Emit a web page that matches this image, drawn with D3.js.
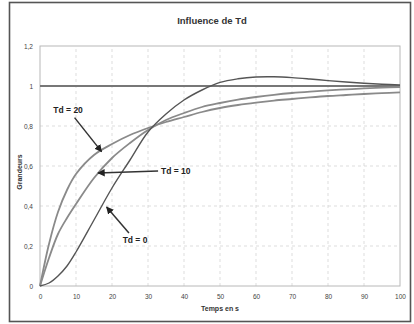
<!DOCTYPE html>
<html>
<head>
<meta charset="utf-8">
<script src="https://cdn.jsdelivr.net/npm/d3@7"></script>
<style>
  html, body { margin: 0; padding: 0; background: #fff; }
  svg { display: block; font-family: "Liberation Sans", Arial, sans-serif; }
</style>
</head>
<body>
<div id="chart"></div>
<script>
// data
const temps = [0, 2.5, 5, 7.5, 10, 15, 20, 25, 30, 35, 40, 45, 50, 55, 60, 65, 70, 75, 80, 85, 90, 95, 100];
const td0   = [0, 0.015, 0.05, 0.1, 0.17, 0.33, 0.49, 0.63, 0.77, 0.86, 0.93, 0.98, 1.018, 1.036, 1.045, 1.046, 1.042, 1.035, 1.027, 1.02, 1.014, 1.009, 1.005];
const td10  = [0, 0.14, 0.26, 0.34, 0.41, 0.54, 0.64, 0.715, 0.78, 0.83, 0.865, 0.895, 0.915, 0.932, 0.945, 0.956, 0.965, 0.972, 0.978, 0.983, 0.988, 0.992, 0.995];
const td20  = [0, 0.21, 0.37, 0.48, 0.56, 0.655, 0.71, 0.755, 0.79, 0.82, 0.845, 0.87, 0.89, 0.905, 0.917, 0.927, 0.935, 0.943, 0.95, 0.955, 0.96, 0.964, 0.968];
const consigne = [1, 1];
const consigneT = [0, 100];

const xTicks = [0, 10, 20, 30, 40, 50, 60, 70, 80, 90, 100];
const yTicks = [0, 0.2, 0.4, 0.6, 0.8, 1, 1.2];

// annotations: label, text anchor point, arrow start, arrow tip (data units)
const notes = [
  { label: "Td = 20", tx: 7.8,  ty: 0.88,  x1: 9.6,  y1: 0.842, x2: 17.1, y2: 0.672, anchor: "middle" },
  { label: "Td = 10", tx: 33.6, ty: 0.575, x1: 32.8, y1: 0.575, x2: 16.1, y2: 0.565, anchor: "start" },
  { label: "Td = 0",  tx: 26.4, ty: 0.23,  x1: 24.7, y1: 0.265, x2: 18.5, y2: 0.395, anchor: "middle" }
];

const W = 414, H = 324;
const margin = { top: 46, right: 14, bottom: 38, left: 40 };

const svg = d3.select("#chart").append("svg")
  .attr("width", W)
  .attr("height", H);

// outer frame
svg.append("rect")
  .attr("x", 9.5).attr("y", 2.5)
  .attr("width", 401).attr("height", 319)
  .attr("fill", "#fff")
  .attr("stroke", "#555")
  .attr("stroke-width", 1.6);

const x = d3.scaleLinear().domain([0, 100]).range([margin.left, W - margin.right]);
const y = d3.scaleLinear().domain([0, 1.2]).range([H - margin.bottom, margin.top]);

// grid
svg.append("g")
  .selectAll("line")
  .data(xTicks.filter(d => d > 0 && d < 100))
  .join("line")
  .attr("x1", d => x(d)).attr("x2", d => x(d))
  .attr("y1", y(0)).attr("y2", y(1.2))
  .attr("stroke", "#d4d4d4")
  .attr("stroke-dasharray", "3,3")
  .attr("stroke-width", 0.8);

svg.append("g")
  .selectAll("line")
  .data(yTicks.filter(d => d > 0 && d < 1.2))
  .join("line")
  .attr("x1", x(0)).attr("x2", x(100))
  .attr("y1", d => y(d)).attr("y2", d => y(d))
  .attr("stroke", "#d4d4d4")
  .attr("stroke-dasharray", "3,3")
  .attr("stroke-width", 0.8);

// plot border
svg.append("rect")
  .attr("x", x(0)).attr("y", y(1.2))
  .attr("width", x(100) - x(0)).attr("height", y(0) - y(1.2))
  .attr("fill", "none")
  .attr("stroke", "#b8b8b8")
  .attr("stroke-width", 1);

// axes
const fmt = d => String(d).replace(".", ",");
const xAxis = svg.append("g")
  .attr("transform", `translate(0, ${y(0)})`)
  .call(d3.axisBottom(x).tickValues(xTicks).tickSize(0).tickPadding(8).tickFormat(fmt));
xAxis.select(".domain").remove();
xAxis.selectAll("text").style("font-size", "6.5px").attr("fill", "#444");

const yAxis = svg.append("g")
  .attr("transform", `translate(${x(0)}, 0)`)
  .call(d3.axisLeft(y).tickValues(yTicks).tickSize(0).tickPadding(7).tickFormat(fmt));
yAxis.select(".domain").remove();
yAxis.selectAll("text").style("font-size", "6.5px").attr("fill", "#444");

// titles
svg.append("text")
  .attr("x", 212).attr("y", 24)
  .attr("text-anchor", "middle")
  .style("font-size", "9.5px").style("font-weight", "bold")
  .attr("fill", "#333")
  .text("Influence de Td");

svg.append("text")
  .attr("x", x(50)).attr("y", 311)
  .attr("text-anchor", "middle")
  .style("font-size", "7px").style("font-weight", "bold")
  .attr("fill", "#333")
  .text("Temps en s");

svg.append("text")
  .attr("transform", `translate(22, ${y(0.57)}) rotate(-90)`)
  .attr("text-anchor", "middle")
  .style("font-size", "7px").style("font-weight", "bold")
  .attr("fill", "#333")
  .text("Grandeurs");

// curves
const line = d3.line()
  .x(d => x(d[0]))
  .y(d => y(d[1]))
  .curve(d3.curveCatmullRom);

svg.append("path")
  .datum(consigneT.map((t, i) => [t, consigne[i]]))
  .attr("d", line)
  .attr("fill", "none")
  .attr("stroke", "#777")
  .attr("stroke-width", 2.2);

const series = [
  { values: td20, color: "#8a8a8a", width: 1.8 },
  { values: td10, color: "#8a8a8a", width: 1.8 },
  { values: td0,  color: "#555",    width: 1.4 }
];

svg.append("g")
  .selectAll("path")
  .data(series)
  .join("path")
  .attr("d", s => line(temps.map((t, i) => [t, s.values[i]])))
  .attr("fill", "none")
  .attr("stroke", s => s.color)
  .attr("stroke-width", s => s.width);

// arrows
svg.append("defs").append("marker")
  .attr("id", "head")
  .attr("viewBox", "0 0 10 10")
  .attr("refX", 9).attr("refY", 5)
  .attr("markerWidth", 5).attr("markerHeight", 5)
  .attr("orient", "auto")
  .append("path")
  .attr("d", "M0,0 L10,5 L0,10 Z")
  .attr("fill", "#222");

svg.append("g")
  .selectAll("line")
  .data(notes)
  .join("line")
  .attr("x1", d => x(d.x1)).attr("y1", d => y(d.y1))
  .attr("x2", d => x(d.x2)).attr("y2", d => y(d.y2))
  .attr("stroke", "#333")
  .attr("stroke-width", 1.5)
  .attr("marker-end", "url(#head)");

svg.append("g")
  .selectAll("text")
  .data(notes)
  .join("text")
  .attr("x", d => x(d.tx)).attr("y", d => y(d.ty))
  .attr("dy", "0.35em")
  .attr("text-anchor", d => d.anchor)
  .style("font-size", "8.5px").style("font-weight", "bold")
  .attr("fill", "#222")
  .text(d => d.label);
</script>
</body>
</html>
